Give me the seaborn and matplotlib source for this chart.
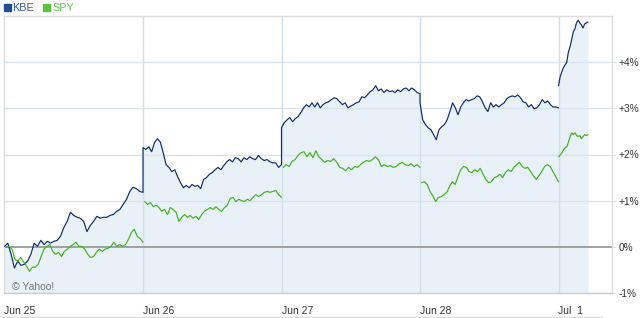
import numpy as np
import pandas as pd
import matplotlib
matplotlib.use("Agg")
import matplotlib.pyplot as plt
import seaborn as sns
from matplotlib.patches import Rectangle
from matplotlib.lines import Line2D

# ---------------- data (percent change) ----------------
day_labels = ["Jun 25", "Jun 26", "Jun 27", "Jun 28", "Jul  1"]
ytick_values = [-1, 0, 1, 2, 3, 4]
ytick_labels = ["-1%", "0%", "+1%", "+2%", "+3%", "+4%"]
session_minutes = 390
jul1_minutes = 83  # data on Jul 1 stops ~83 minutes after the open

kbe_jun25 = [0.01, 0.08, -0.16, -0.46, -0.31, -0.40, -0.38, -0.31, -0.16, 0.08, 0.01,
             0.14, 0.05, 0.12, 0.08, 0.12, 0.14, 0.23, 0.42, 0.55, 0.75, 0.68, 0.64,
             0.62, 0.55, 0.33, 0.46, 0.55, 0.66, 0.62, 0.64, 0.64, 0.68, 0.70, 0.77,
             0.81, 0.92, 1.03, 1.20, 1.29, 1.26, 1.20, 1.18]
kbe_jun26 = [2.15, 2.11, 2.17, 2.06, 2.26, 2.34, 2.27, 2.04, 1.78, 1.72, 1.63, 1.67,
             1.52, 1.39, 1.28, 1.33, 1.28, 1.35, 1.31, 1.33, 1.26, 1.46, 1.50, 1.57,
             1.61, 1.67, 1.72, 1.67, 1.76, 1.84, 1.89, 1.84, 1.93, 1.91, 1.84, 1.93,
             1.89, 1.95, 1.91, 1.89, 1.98, 1.91, 1.87, 1.89, 1.84, 1.82, 1.82, 1.72, 1.78]
kbe_jun27 = [2.58, 2.69, 2.75, 2.80, 2.71, 2.78, 2.82, 2.91, 3.01, 3.08, 3.03, 3.12,
             3.03, 3.12, 3.01, 3.08, 3.12, 3.14, 3.19, 3.23, 3.21, 3.14, 3.08, 3.12,
             3.01, 3.05, 3.08, 3.12, 3.14, 3.25, 3.23, 3.29, 3.36, 3.40, 3.49, 3.38,
             3.42, 3.34, 3.40, 3.36, 3.38, 3.34, 3.40, 3.36, 3.42, 3.44, 3.38, 3.44,
             3.40, 3.34, 3.32]
kbe_jun28 = [3.12, 2.75, 2.65, 2.58, 2.54, 2.43, 2.32, 2.54, 2.60, 2.65, 2.75, 2.93,
             3.12, 3.01, 2.86, 3.03, 3.12, 3.19, 3.16, 3.19, 3.21, 3.27, 3.25, 3.14,
             3.01, 2.93, 3.12, 3.03, 3.08, 3.03, 3.08, 3.12, 3.21, 3.25, 3.27, 3.25,
             3.29, 3.23, 3.14, 3.12, 3.03, 3.08, 2.99, 3.01, 3.08, 3.19, 3.12, 3.16,
             3.08, 3.03, 3.03, 3.01]
kbe_jul01 = [3.49, 3.68, 3.79, 3.88, 3.94, 3.99, 4.21, 4.33, 4.48, 4.65, 4.72, 4.85,
             4.91, 4.85, 4.81, 4.74, 4.83, 4.85, 4.87]

spy_jun25 = [-0.01, 0.01, -0.05, -0.27, -0.31, -0.23, -0.33, -0.42, -0.53, -0.44,
             -0.44, -0.38, -0.21, -0.05, 0.01, 0.05, -0.10, -0.16, -0.12, -0.21,
             -0.10, -0.05, 0.01, 0.05, 0.10, 0.01, 0.01, -0.05, -0.16, -0.23, -0.21,
             -0.12, -0.05, -0.10, -0.05, -0.03, 0.01, 0.10, 0.01, 0.05, 0.01, 0.05,
             0.16, 0.31, 0.38, 0.23, 0.18, 0.10]
spy_jun26 = [0.98, 0.92, 0.96, 0.87, 0.90, 0.85, 0.77, 0.81, 0.70, 0.85, 0.81, 0.75,
             0.55, 0.64, 0.70, 0.64, 0.68, 0.62, 0.66, 0.59, 0.70, 0.77, 0.81, 0.85,
             0.81, 0.87, 0.81, 0.77, 0.85, 0.90, 1.05, 1.07, 0.98, 1.03, 1.00, 0.98,
             1.03, 1.00, 1.07, 1.13, 1.09, 1.13, 1.18, 1.20, 1.18, 1.20, 1.22, 1.13, 1.07]
spy_jun27 = [1.72, 1.78, 1.74, 1.85, 1.89, 1.98, 2.04, 2.06, 1.95, 2.04, 1.93, 2.08,
             1.95, 1.89, 1.83, 1.87, 1.85, 1.91, 1.83, 1.72, 1.70, 1.65, 1.72, 1.67,
             1.74, 1.72, 1.78, 1.83, 1.87, 1.85, 1.89, 1.95, 1.89, 1.74, 1.78, 1.74,
             1.76, 1.72, 1.74, 1.80, 1.83, 1.78, 1.76, 1.80, 1.74, 1.78, 1.72]
spy_jun28 = [1.39, 1.41, 1.35, 1.20, 1.11, 0.98, 1.07, 1.09, 1.13, 1.18, 1.31, 1.41,
             1.35, 1.52, 1.67, 1.74, 1.72, 1.63, 1.61, 1.67, 1.63, 1.70, 1.57, 1.46,
             1.39, 1.41, 1.50, 1.52, 1.57, 1.50, 1.61, 1.67, 1.63, 1.72, 1.78, 1.83,
             1.74, 1.70, 1.72, 1.63, 1.54, 1.46, 1.54, 1.63, 1.74, 1.78, 1.74, 1.63,
             1.52, 1.41]
spy_jul01 = [1.95, 2.00, 2.04, 2.11, 2.15, 2.17, 2.28, 2.39, 2.47, 2.43, 2.47, 2.41,
             2.39, 2.41, 2.34, 2.39, 2.43, 2.41, 2.43]

kbe_days = [kbe_jun25, kbe_jun26, kbe_jun27, kbe_jun28, kbe_jul01]
spy_days = [spy_jun25, spy_jun26, spy_jun27, spy_jun28, spy_jul01]

# ---------------- build long table ----------------
def day_times(i, n, start=0.0):
    end = 1.0 if i < 4 else jul1_minutes / session_minutes
    return i + np.linspace(start * end, end, n)

rows = []
for i, vals in enumerate(kbe_days):
    seg = "KBE-a" if i < 4 else "KBE-b"  # KBE line runs continuously until the weekend gap
    for t, v in zip(day_times(i, len(vals)), vals):
        rows.append(("KBE", seg, t, v))
for i, vals in enumerate(spy_days):
    for t, v in zip(day_times(i, len(vals), start=0.012), vals):
        rows.append(("SPY", f"SPY-{i}", t, v))
df = pd.DataFrame(rows, columns=["ticker", "seg", "t", "v"])

# ---------------- style ----------------
sns.set_style("white")
plt.rcParams["font.family"] = ["Liberation Sans", "DejaVu Sans"]

KBE_C = "#0d2a6e"
SPY_C = "#3fb31f"
FILL_C = "#e9f1f8"
GRID_C = "#d8e5f0"

fig = plt.figure(figsize=(6.4, 3.18), dpi=100)
ax = fig.add_axes([4 / 640, 25 / 318, 608 / 640, 277 / 318])

kbe_df = df[df.ticker == "KBE"]
ax.fill_between(kbe_df.t, kbe_df.v, -1.5, color=FILL_C, lw=0, zorder=1)

for yv in ytick_values:
    if yv == 0:
        continue
    ax.axhline(yv, color=GRID_C, lw=1.0, zorder=1.5)
for xv in range(1, 5):
    ax.axvline(xv, color="#d0dfec", lw=1.0, zorder=1.5)
ax.axhline(0, color="#9a9a9a", lw=1.3, zorder=1.6)

sns.lineplot(data=df, x="t", y="v", hue="ticker", units="seg", estimator=None,
             palette={"KBE": KBE_C, "SPY": SPY_C}, lw=0.85, legend=False,
             sort=False, ax=ax, zorder=3)

ax.set_xlim((4 - 4.5) / 138.5, (612 - 4.5) / 138.5)
ax.set_ylim((247.5 - 293) / 46.3, (247.5 - 16) / 46.3)

ax.yaxis.tick_right()
ax.set_yticks(ytick_values)
ax.set_yticklabels(ytick_labels)
ax.tick_params(axis="y", length=3, color=GRID_C, pad=1.5, labelsize=7.3,
               labelcolor="#333333")
ax.set_xticks(range(5))
ax.set_xticklabels(day_labels, ha="left")
ax.tick_params(axis="x", length=0, pad=9, labelsize=7.5, labelcolor="#333333")
ax.set_xlabel("")
ax.set_ylabel("")

for side in ["top", "left", "right"]:
    ax.spines[side].set_color("#dddddd")
    ax.spines[side].set_linewidth(1.0)
ax.spines["bottom"].set_color("#cccccc")
ax.spines["bottom"].set_linewidth(1.0)

ax.text(8 / 608, 1 - (287 - 16) / 277, "© Yahoo!", transform=ax.transAxes,
        fontsize=7.5, color="#777777", va="center", ha="left", zorder=4)

# legend
fig.patches.append(Rectangle((4 / 640, 1 - 11 / 318), 7 / 640, 7 / 318,
                             transform=fig.transFigure, color="#1f4f8f"))
fig.text(12.5 / 640, 1 - 8 / 318, "KBE", fontsize=7.8, color="#35588f", va="center")
fig.patches.append(Rectangle((43 / 640, 1 - 11 / 318), 7 / 640, 7 / 318,
                             transform=fig.transFigure, color="#5bc23f"))
fig.text(52.5 / 640, 1 - 8 / 318, "SPY", fontsize=7.8, color="#62c850", va="center")

fig.add_artist(Line2D([0, 602 / 640], [1 - 316.5 / 318] * 2, color="#dddddd", lw=1.0,
                      transform=fig.transFigure))

fig.savefig("out.png", dpi=100)
